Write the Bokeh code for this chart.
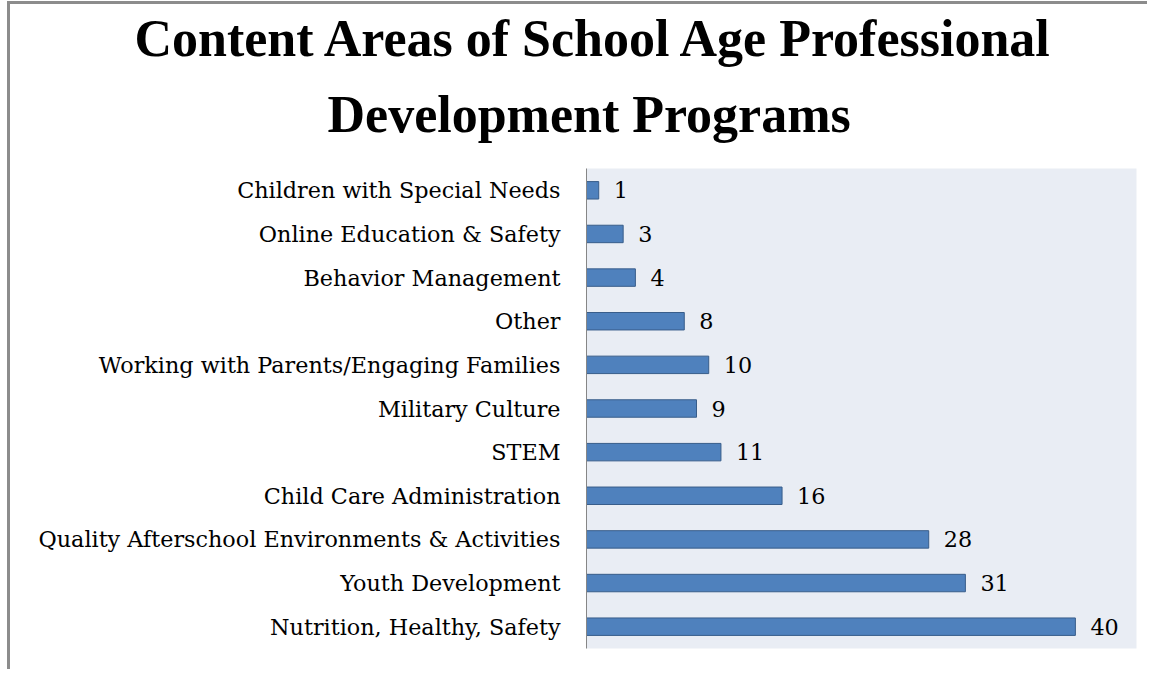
from bokeh.plotting import figure
from bokeh.models import FactorRange, Range1d, Title, ColumnDataSource, LabelSet
from bokeh.embed import file_html
from bokeh.resources import INLINE
from bokeh.core.properties import value

categories = [
    "Nutrition, Healthy, Safety",
    "Youth Development",
    "Quality Afterschool Environments & Activities",
    "Child Care Administration",
    "STEM",
    "Military Culture",
    "Working with Parents/Engaging Families",
    "Other",
    "Behavior Management",
    "Online Education & Safety",
    "Children with Special Needs",
]
counts = [40, 31, 28, 16, 11, 9, 10, 8, 4, 3, 1]
title_lines = ["Content Areas of School Age Professional", "Development Programs"]

W, H = 1140, 668
p = figure(width=W, height=H, output_backend="svg", toolbar_location=None,
           y_range=FactorRange(*categories, range_padding=0),
           x_range=Range1d(0, 45),
           min_border_left=576, min_border_right=14, min_border_top=164, min_border_bottom=24)
p.title.visible = False
p.background_fill_color = "#E9EDF4"
p.border_fill_color = "white"
p.outline_line_color = None
p.grid.visible = False
p.xaxis.visible = False

src = ColumnDataSource(dict(cat=categories, n=counts, lab=[str(c) for c in counts]))
p.hbar(y="cat", right="n", left=0, height=0.4, source=src,
       fill_color="#4F81BD", line_color="#385D8A", line_width=1)
p.add_layout(LabelSet(x="n", y="cat", text="lab", source=src, x_offset=15,
                      text_baseline="middle", text_font=value("DejaVu Serif"),
                      text_font_size="22.3px", text_color="black"))

ax = p.yaxis[0]
ax.axis_line_color = "#868686"
ax.axis_line_width = 1
ax.major_tick_line_color = None
ax.minor_tick_line_color = None
ax.major_tick_out = 0
ax.major_tick_in = 0
ax.major_label_standoff = 26
ax.major_label_text_font = "DejaVu Serif"
ax.major_label_text_font_size = "22.3px"
ax.major_label_text_color = "black"

# Title lines: second line nearest the plot; left-aligned with negative offsets
offsets = [-452, -259]
standoffs = [-17, 51]
for line, off, so in reversed(list(zip(title_lines, offsets, standoffs))):
    t = Title(text=line, align="left", offset=off,
              text_font="Liberation Serif", text_font_style="bold",
              text_font_size="52px", text_color="black", standoff=0,
              text_line_height=1.0)
    try:
        t.standoff = so
    except ValueError:
        t.standoff = max(so, 0)
    p.add_layout(t, "above")

p.styles = {"border-left": "3px solid #8C8C8C", "border-top": "3px solid #8C8C8C",
            "margin-left": "7px", "margin-top": "1px"}

open("out.html", "w").write(file_html(p, INLINE))
